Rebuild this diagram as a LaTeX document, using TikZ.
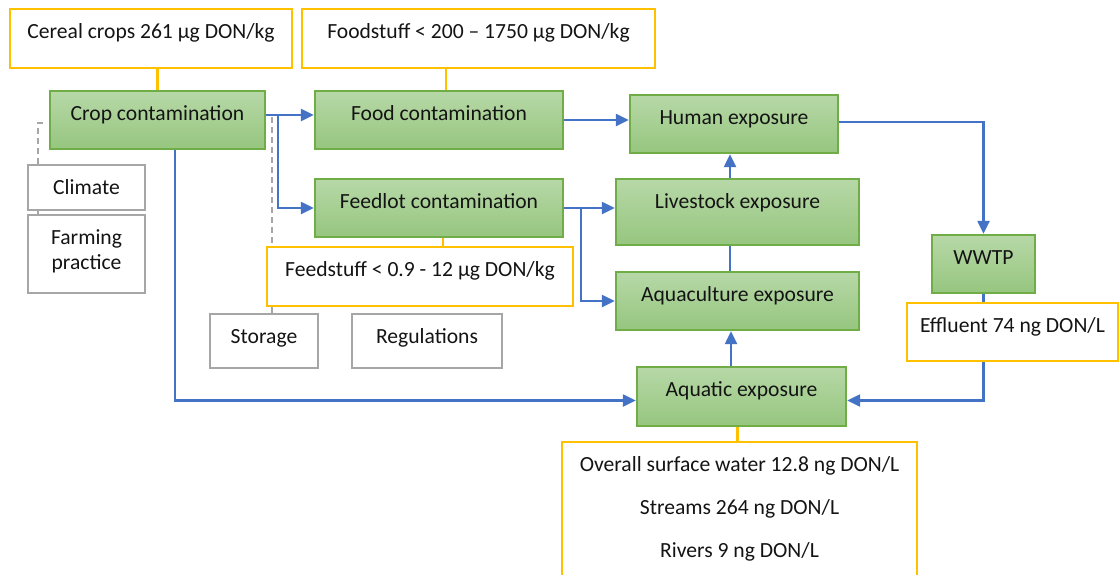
\documentclass[tikz,border=0pt]{standalone}
\usepackage{fontspec}
\setmainfont{Carlito}
\usetikzlibrary{arrows.meta,calc}
\definecolor{gborder}{RGB}{112,173,71}
\definecolor{gtop}{RGB}{183,216,167}
\definecolor{gbot}{RGB}{150,198,127}
\definecolor{yel}{RGB}{255,192,0}
\definecolor{gry}{RGB}{166,166,166}
\definecolor{blu}{RGB}{68,114,196}
\tikzset{
  greenbox/.style={draw=gborder, line width=2.3pt, top color=gtop, bottom color=gbot, inner sep=0pt},
  yelbox/.style={draw=yel, line width=2.3pt, fill=white, inner sep=0pt},
  grybox/.style={draw=gry, line width=2.3pt, fill=white, inner sep=0pt},
  txt/.style={font=\fontsize{21.6}{26}\selectfont, text=black!92},
  lab/.style={label={[txt,anchor=base,yshift=-31pt]north:#1}},
  flow/.style={draw=blu, line width=2.2pt, -{Triangle[length=13pt,width=12pt]}},
  link/.style={draw=blu, line width=2.2pt},
  yline/.style={draw=yel, line width=2.2pt},
  gline/.style={draw=gry, line width=2.2pt},
  gdash/.style={gline, dash pattern=on 6pt off 4pt}
}
\begin{document}
\begin{tikzpicture}[x=1pt,y=-1pt]
\clip (0,0) rectangle (1120,574);
\fill[white] (0,0) rectangle (1120,574);
\coordinate (g0) at (43,123);
\coordinate (g1) at (272,117);
% boxes
\node[yelbox,minimum width=282pt,minimum height=59pt,lab={Cereal crops 261 µg DON/kg}] (cereal) at (151,38.5) {};
\node[yelbox,minimum width=353pt,minimum height=59pt,lab={Foodstuff < 200 – 1750 µg DON/kg}] (foodstuff) at (478.5,38.5) {};
\node[greenbox,minimum width=215pt,minimum height=58pt,lab={Crop contamination}] (crop) at (157.5,120) {};
\node[greenbox,minimum width=248pt,minimum height=58pt,lab={Food contamination}] (food) at (439,120) {};
\node[greenbox,minimum width=248pt,minimum height=58pt,lab={Feedlot contamination}] (feedlot) at (439,208) {};
\node[grybox,minimum width=117pt,minimum height=45pt,lab={Climate}] (climate) at (86.5,187.5) {};
\node[grybox,minimum width=117pt,minimum height=78pt,
  label={[txt,anchor=base,yshift=-31pt]north:Farming},
  label={[txt,anchor=base,yshift=-56pt]north:practice}] (farming) at (86.5,254) {};
\node[grybox,minimum width=108pt,minimum height=54pt,lab={Storage}] (storage) at (264,341) {};
\node[grybox,minimum width=150pt,minimum height=54pt,lab={Regulations}] (regulations) at (427,341) {};
\node[greenbox,minimum width=208pt,minimum height=58pt,lab={Human exposure}] (human) at (734,124) {};
\node[greenbox,minimum width=243pt,minimum height=66pt,lab={Livestock exposure}] (livestock) at (737.5,212) {};
\node[greenbox,minimum width=243pt,minimum height=58pt,lab={Aquaculture exposure}] (aquaculture) at (737.5,301) {};
\node[greenbox,minimum width=209pt,minimum height=59pt,lab={Aquatic exposure}] (aquatic) at (741.5,396.5) {};
\node[greenbox,minimum width=103pt,minimum height=58pt,lab={WWTP}] (wwtp) at (983.5,264) {};
\node[yelbox,minimum width=211pt,minimum height=58pt,lab={Effluent 74 ng DON/L}] (effluent) at (1012.5,332) {};
\node[yelbox,minimum width=355pt,minimum height=156pt,
  label={[txt,anchor=base,yshift=-31pt]north:Overall surface water 12.8 ng DON/L},
  label={[txt,anchor=base,yshift=-74pt]north:Streams 264 ng DON/L},
  label={[txt,anchor=base,yshift=-117pt]north:Rivers 9 ng DON/L}] (water) at (739.5,520) {};
% gray lines
\draw[gdash] (g0) -| ([xshift=11pt]climate.north west);
\draw[gline] ([xshift=11pt]climate.south west) -- ([xshift=11pt]farming.north west);
\draw[gdash] (g1) -- (g1 |- 0,247);
\node[yelbox,minimum width=306pt,minimum height=59pt,lab={Feedstuff < 0.9 - 12 µg DON/kg}] (feedstuff) at (420,276.5) {};
\draw[gline] (g1 |- feedstuff.south) -- (g1 |- storage.north);
% yellow links
\draw[yline] (crop.north) -- (crop.north |- cereal.south);
\draw[yline] ([xshift=7pt]food.north) -- ([xshift=7pt]food.north |- foodstuff.south);
\draw[yline] ([xshift=4pt]feedlot.south) -- ([xshift=4pt]feedlot.south |- feedstuff.north);
\draw[yline] ([xshift=-4pt]aquatic.south) -- ([xshift=-4pt]aquatic.south |- water.north);
% blue flows
\draw[flow] ([yshift=5pt]crop.east) -- ([yshift=5pt]crop.east -| food.west);
\coordinate (b1) at ($([yshift=5pt]crop.east)+(12,0)$);
\draw[flow] (b1) |- (feedlot.west);
\draw[flow] ([xshift=17.5pt]crop.south) |- ([yshift=-4pt]aquatic.west);
\draw[flow] (food.east) -- (food.east -| human.west);
\draw[flow] (feedlot.east) -- (feedlot.east -| livestock.west);
\coordinate (b2) at ($(feedlot.east)+(17,0)$);
\draw[flow] (b2) |- (aquaculture.west);
\draw[flow] ([xshift=-7.5pt]livestock.north) -- ([xshift=-7.5pt]livestock.north |- human.south);
\draw[link] ([xshift=-7.5pt]aquaculture.north) -- ([xshift=-7.5pt]aquaculture.north |- livestock.south);
\draw[flow] ([xshift=-10.5pt]aquatic.north) -- ([xshift=-10.5pt]aquatic.north |- aquaculture.south);
\draw[flow] ([yshift=2pt]human.east) -| (wwtp.north);
\draw[link] (wwtp.south) -- (wwtp.south |- effluent.north);
\draw[flow] (wwtp.south |- effluent.south) |- ([yshift=-4pt]aquatic.east);
\end{tikzpicture}
\end{document}
